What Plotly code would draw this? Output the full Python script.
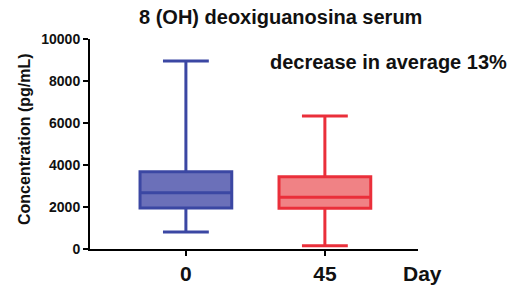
import plotly.graph_objects as go

categories = ["0", "45"]
upper = [8950, 6330]
q3 = [3680, 3440]
median = [2680, 2460]
q1 = [1950, 1940]
lower = [810, 160]
y_ticks = [0, 2000, 4000, 6000, 8000, 10000]
y_ticktext = ["0", "2000", "4000", "6000", "8000", "10000"]
line_colors = ["#3b47a3", "#ea2f3a"]
fill_colors = ["#6b70b9", "#f08285"]

fig = go.Figure()
for i, c in enumerate(categories):
    fig.add_trace(go.Box(
        x=[c], q1=[q1[i]], median=[median[i]], q3=[q3[i]],
        lowerfence=[lower[i]], upperfence=[upper[i]],
        fillcolor=fill_colors[i], line=dict(color=line_colors[i], width=3),
        width=0.66, whiskerwidth=0.5, boxpoints=False, showlegend=False,
        hoverinfo="skip",
    ))

ff = "Liberation Sans, Arial, sans-serif"
W, H = 511, 287
L, R, T, B = 90, 93, 39, 38
pw = W - L - R
ph = H - T - B

def px(x):  # window pixel -> paper
    return (x - L) / pw

def py(y):
    return (H - B - y) / ph

def bold(size):
    return dict(size=size, family=ff, weight="bold", color="#111111")

fig.update_layout(
    width=W, height=H,
    margin=dict(l=L, r=R, t=T, b=B, autoexpand=False),
    plot_bgcolor="white", paper_bgcolor="white",
    font=dict(family=ff, color="#111111"),
    xaxis=dict(type="category", categoryorder="array", categoryarray=categories,
               range=[-0.69, 1.67], showline=True, linecolor="black", linewidth=2,
               ticks="outside", ticklen=5, tickwidth=2, tickcolor="black",
               tickfont=bold(21), ticklabelstandoff=0,
               showgrid=False, zeroline=False, automargin=False),
    yaxis=dict(range=[0, 10000], tickvals=y_ticks, ticktext=y_ticktext,
               showline=True, linecolor="black", linewidth=2,
               ticks="outside", ticklen=5, tickwidth=2, tickcolor="black",
               tickfont=bold(14),
               showgrid=False, zeroline=False, automargin=False),
    annotations=[
        dict(text="8 (OH) deoxiguanosina serum", x=px(280), y=py(17), font=bold(20)),
        dict(text="decrease in average 13%", x=px(388), y=py(62), font=bold(20)),
        dict(text="Day", x=px(423), y=py(273), font=bold(21)),
        dict(text="Concentration (pg/mL)", x=px(24), y=py(139), font=bold(16),
             textangle=-90),
    ],
)
fig.update_annotations(xref="paper", yref="paper", showarrow=False,
                       xanchor="center", yanchor="middle")

fig.write_html("out.html", config={"displayModeBar": False},
               post_script="document.body.style.margin='0';document.body.style.padding='0';")
